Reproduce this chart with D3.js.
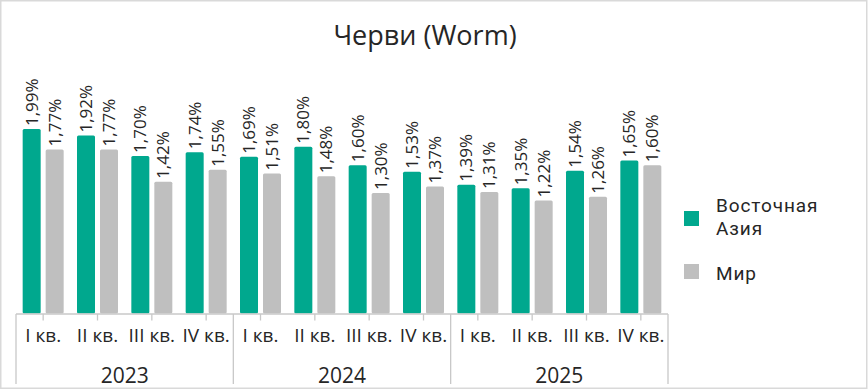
<!DOCTYPE html>
<html>
<head>
<meta charset="utf-8">
<script src="https://cdn.jsdelivr.net/npm/d3@7"></script>
<style>
  html, body { margin: 0; padding: 0; background: #fff; }
  svg { display: block; font-family: "Open Sans", sans-serif; }
</style>
</head>
<body>
<div id="chart"></div>
<script>
const years = ['2023', '2024', '2025'];
const quarters = ['I кв.', 'II кв.', 'III кв.', 'IV кв.'];
const seriesNames = ['Восточная Азия', 'Мир'];
const eastAsia = [1.99, 1.92, 1.70, 1.74, 1.69, 1.80, 1.60, 1.53, 1.39, 1.35, 1.54, 1.65];
const world = [1.77, 1.77, 1.42, 1.55, 1.51, 1.48, 1.30, 1.37, 1.31, 1.22, 1.26, 1.60];

const width = 868, height = 390;
const colors = ['#00a88e', '#bfbfbf'];
const textColor = '#262626';
const axisColor = '#c8c8c8';

const categories = [];
years.forEach(y => quarters.forEach(q => categories.push(y + ' ' + q)));

const data = categories.map((c, i) => ({
  key: c,
  quarter: quarters[i % quarters.length],
  values: [eastAsia[i], world[i]]
}));

const svg = d3.select('#chart')
  .append('svg')
  .attr('width', width)
  .attr('height', height);

// frame
svg.append('rect')
  .attr('x', 0.75).attr('y', 0.75)
  .attr('width', width - 2).attr('height', height - 2.5)
  .attr('fill', '#fff')
  .attr('stroke', '#d9d9d9')
  .attr('stroke-width', 1.5);

const plot = {left: 16, right: 668, base: 313.5};

const x = d3.scaleBand()
  .domain(categories)
  .range([plot.left, plot.right])
  .padding(0);

const xInner = d3.scaleBand()
  .domain(seriesNames)
  .range([0, x.bandwidth()])
  .paddingInner(0.217)
  .paddingOuter(0.29);

const y = d3.scaleLinear()
  .domain([0, 2])
  .range([plot.base, plot.base - 2 * 92.7]);

const fmt = v => d3.format('.2f')(v).replace('.', ',') + '%';

// title
svg.append('text')
  .attr('x', 425)
  .attr('y', 45)
  .attr('text-anchor', 'middle')
  .attr('fill', textColor)
  .style('font-size', '27px')
  .text('Черви (Worm)');

// bars
const groups = svg.append('g')
  .selectAll('g')
  .data(data)
  .join('g')
  .attr('transform', d => `translate(${x(d.key)},0)`);

groups.selectAll('rect')
  .data(d => d.values.map((v, i) => ({name: seriesNames[i], value: v, i})))
  .join('rect')
  .attr('x', d => xInner(d.name))
  .attr('y', d => y(d.value))
  .attr('width', xInner.bandwidth())
  .attr('height', d => plot.base - y(d.value))
  .attr('rx', 1.5)
  .attr('fill', d => colors[d.i]);

groups.selectAll('text')
  .data(d => d.values.map((v, i) => ({name: seriesNames[i], value: v, i})))
  .join('text')
  .attr('transform', d => `translate(${xInner(d.name) + xInner.bandwidth() / 2},${y(d.value) - 3}) rotate(-90)`)
  .attr('dy', '0.36em')
  .attr('text-anchor', 'start')
  .attr('fill', textColor)
  .style('font-size', '17px')
  .text(d => fmt(d.value));

// axis
const axis = svg.append('g')
  .attr('stroke', axisColor)
  .attr('stroke-width', 1.3);

axis.append('line')
  .attr('x1', plot.left).attr('x2', plot.right)
  .attr('y1', plot.base + 0.5).attr('y2', plot.base + 0.5);

axis.selectAll('.tick')
  .data(categories)
  .join('line')
  .attr('x1', d => x(d) + x.bandwidth() / 2)
  .attr('x2', d => x(d) + x.bandwidth() / 2)
  .attr('y1', plot.base + 0.5)
  .attr('y2', plot.base + 7);

const groupEdges = years.map((yr, i) => x(categories[i * quarters.length]));
groupEdges.push(plot.right);

axis.selectAll('.sep')
  .data(groupEdges)
  .join('line')
  .attr('x1', d => d).attr('x2', d => d)
  .attr('y1', plot.base + 0.5)
  .attr('y2', 384);

svg.append('g')
  .selectAll('text')
  .data(data)
  .join('text')
  .attr('x', d => x(d.key) + x.bandwidth() / 2)
  .attr('y', 342)
  .attr('text-anchor', 'middle')
  .attr('fill', textColor)
  .style('font-size', '19px')
  .text(d => d.quarter);

svg.append('g')
  .selectAll('text')
  .data(years)
  .join('text')
  .attr('x', (d, i) => (groupEdges[i] + groupEdges[i + 1]) / 2)
  .attr('y', 383)
  .attr('text-anchor', 'middle')
  .attr('fill', textColor)
  .style('font-size', '21px')
  .text(d => d);

// legend
const legend = svg.append('g');
const legendRows = [
  {lines: ['Восточная', 'Азия'], boxY: 211, textY: 212},
  {lines: ['Мир'], boxY: 264, textY: 280}
];

legendRows.forEach((row, i) => {
  legend.append('rect')
    .attr('x', 684)
    .attr('y', row.boxY)
    .attr('width', 15)
    .attr('height', 15)
    .attr('fill', colors[i]);

  row.lines.forEach((l, j) => {
    legend.append('text')
      .attr('x', 716)
      .attr('y', row.textY + j * 22.5)
      .attr('fill', textColor)
      .style('font-family', 'Roboto, sans-serif')
      .style('font-size', '19px')
      .style('letter-spacing', '0.9px')
      .text(l);
  });
});
</script>
</body>
</html>
